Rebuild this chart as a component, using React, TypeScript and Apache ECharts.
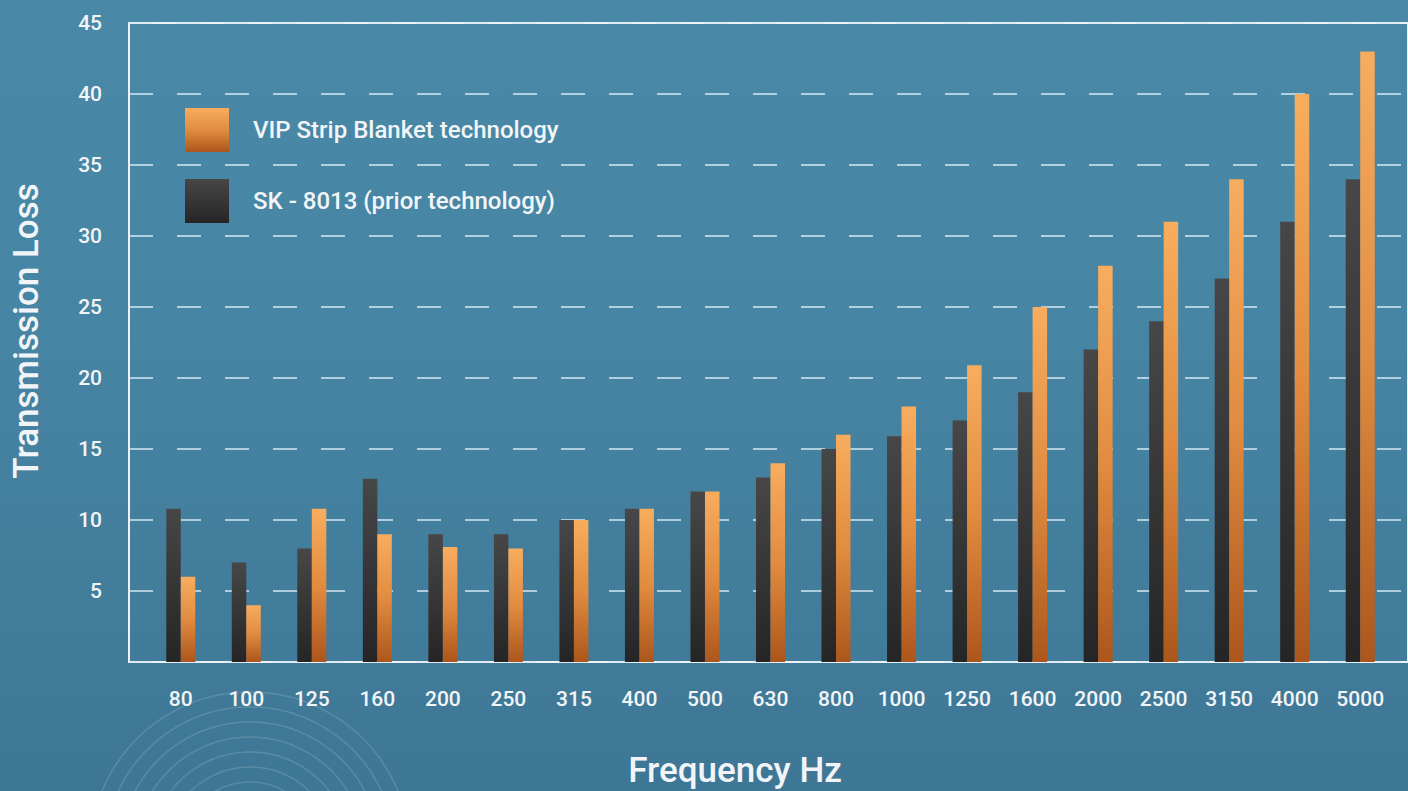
import React, { useEffect, useRef } from "react";
import * as echarts from "echarts";

const categories = ["80", "100", "125", "160", "200", "250", "315", "400", "500", "630", "800", "1000", "1250", "1600", "2000", "2500", "3150", "4000", "5000"];
const skValues = [10.8, 7, 8, 12.9, 9, 9, 10, 10.8, 12, 13, 15, 15.9, 17, 19, 22, 24, 27, 31, 34];
const vipValues = [6, 4, 10.8, 9, 8.1, 8, 10, 10.8, 12, 14, 16, 18, 20.9, 25, 27.9, 31, 34, 40, 43];
const yTicks = [0, 5, 10, 15, 20, 25, 30, 35, 40, 45];
const vipName = "VIP Strip Blanket technology";
const skName = "SK - 8013 (prior technology)";

const FONT = "Roboto, 'Noto Sans', sans-serif";
const TXT = "#f2f5f7";

export default function App() {
  const ref = useRef<HTMLDivElement>(null);
  useEffect(() => {
    document.body.style.margin = "0";
    const chart = echarts.init(ref.current!, null, { renderer: "svg" });
    const orange = new echarts.graphic.LinearGradient(0, 0, 0, 1, [
      { offset: 0, color: "#f8ad5e" },
      { offset: 0.5, color: "#e18c40" },
      { offset: 1, color: "#ad561c" },
    ]);
    const dark = new echarts.graphic.LinearGradient(0, 0, 0, 1, [
      { offset: 0, color: "#474747" },
      { offset: 1, color: "#252525" },
    ]);
    const arcs = [160, 145, 130, 115, 100, 85, 70, 55].map((r) => ({
      type: "circle",
      shape: { cx: 250, cy: 852, r },
      style: { fill: "none", stroke: "rgba(255,255,255,0.14)", lineWidth: 1.5 },
      silent: true,
      z: -10,
    }));
    chart.setOption({
      animation: false,
      textStyle: { fontFamily: FONT },
      graphic: [
        ...arcs,
        {
          type: "text",
          x: 26,
          y: 331,
          rotation: Math.PI / 2,
          style: {
            text: "Transmission Loss",
            fill: TXT,
            font: `500 35px ${FONT}`,
            textAlign: "center",
            textVerticalAlign: "middle",
          },
        },
        {
          type: "text",
          x: 735,
          y: 770,
          style: {
            text: "Frequency Hz",
            fill: TXT,
            font: `500 35px ${FONT}`,
            textAlign: "center",
            textVerticalAlign: "middle",
          },
        },
      ],
      legend: {
        orient: "vertical",
        left: 185,
        top: 108,
        padding: 0,
        itemWidth: 44,
        itemHeight: 44,
        itemGap: 27,
        icon: "rect",
        data: [vipName, skName],
        textStyle: { color: TXT, fontSize: 24, fontWeight: 500, fontFamily: FONT, padding: [0, 0, 0, 19] },
      },
      grid: [
        { left: 129, top: 23, width: 1300, height: 639, show: true, borderColor: "#f0f3f5", borderWidth: 2, backgroundColor: "transparent" },
        { left: 148, top: 23, width: 1245, height: 639 },
      ],
      xAxis: [
        { gridIndex: 0, type: "value", min: 0, max: 1, show: false },
        {
          gridIndex: 1,
          type: "category",
          data: categories,
          axisLine: { show: false },
          axisTick: { show: false },
          axisLabel: { color: TXT, fontSize: 21, fontWeight: 500, margin: 26, fontFamily: FONT },
        },
      ],
      yAxis: [
        {
          gridIndex: 0,
          type: "value",
          min: yTicks[0],
          max: yTicks[yTicks.length - 1],
          interval: 5,
          axisLine: { show: false },
          axisTick: { show: false },
          axisLabel: {
            color: TXT,
            fontSize: 21,
            fontWeight: 500,
            margin: 27,
            fontFamily: FONT,
            formatter: (v: number) => (v === 0 ? "" : String(v)),
          },
          splitLine: { lineStyle: { type: [24, 24], color: "rgba(214,232,243,0.75)", width: 2 } },
        },
        { gridIndex: 1, type: "value", min: 0, max: 45, show: false },
      ],
      series: [
        {
          name: skName,
          type: "bar",
          xAxisIndex: 1,
          yAxisIndex: 1,
          data: skValues,
          barWidth: 14.5,
          barGap: "0%",
          itemStyle: { color: dark },
        },
        {
          name: vipName,
          type: "bar",
          xAxisIndex: 1,
          yAxisIndex: 1,
          data: vipValues,
          barWidth: 14.5,
          barGap: "0%",
          itemStyle: { color: orange },
        },
      ],
    });
    return () => chart.dispose();
  }, []);
  return (
    <div
      style={{
        position: "absolute",
        left: 0,
        top: 0,
        width: 1408,
        height: 791,
        overflow: "hidden",
        background: "linear-gradient(180deg, #4a88a7 0%, #4785a4 40%, #3e7795 100%)",
      }}
    >
      <div ref={ref} style={{ width: 1408, height: 791 }} />
    </div>
  );
}
